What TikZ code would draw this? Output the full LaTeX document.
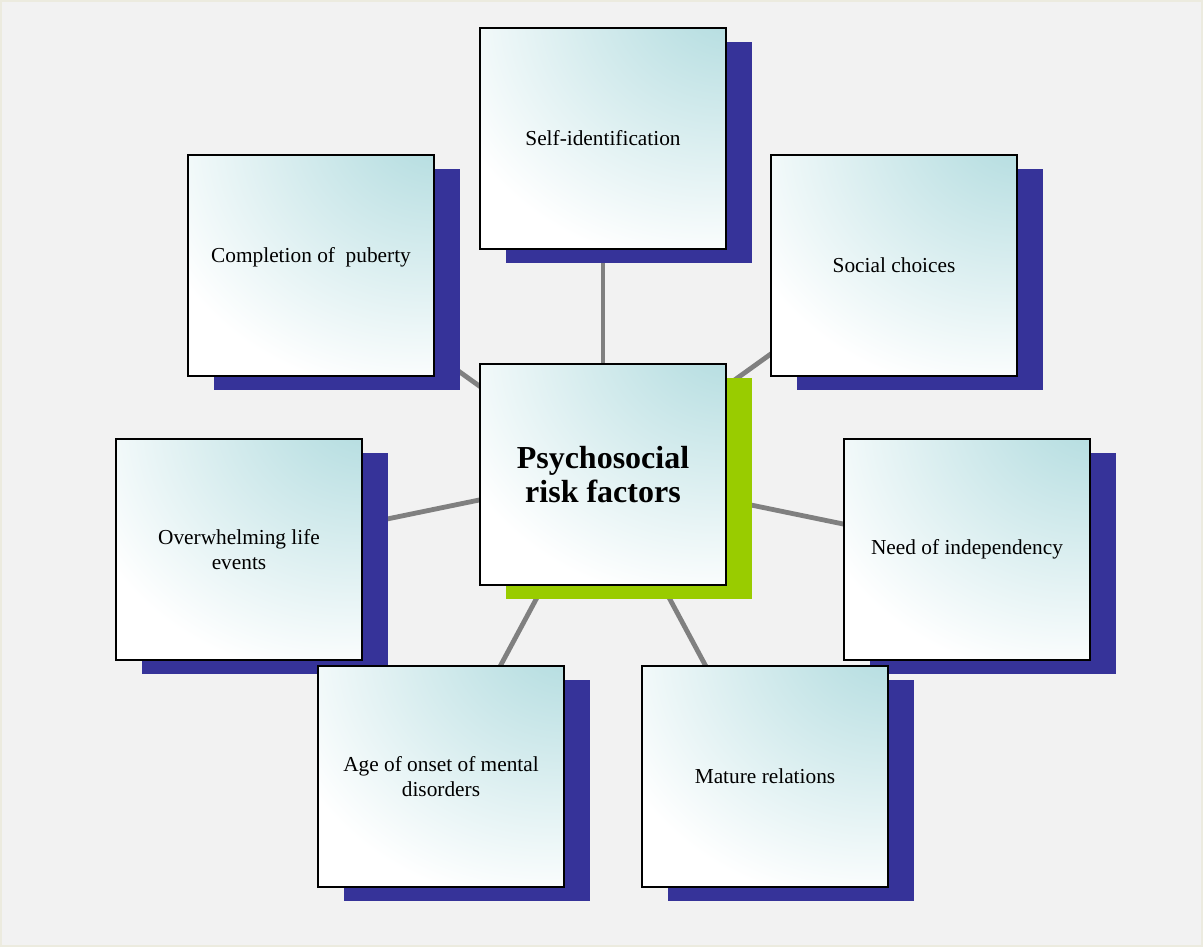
\documentclass[tikz,border=0pt]{standalone}
\usepackage{fontspec}
\setmainfont{Liberation Serif}
\usepackage{xcolor}
\usepackage{tikz}
\usetikzlibrary{shadows,backgrounds}

\definecolor{paneltint}{HTML}{F2F2F2}
\definecolor{paneledge}{HTML}{ECEBDF}
\definecolor{shadowblue}{HTML}{363399}
\definecolor{shadowgreen}{HTML}{99CC00}
\definecolor{tealtint}{HTML}{B9DFE2}
\definecolor{linkgray}{HTML}{808080}

% teal glow in the upper right corner of every box
\pgfdeclareradialshading{tealcorner}{\pgfpoint{28bp}{36bp}}{%
  color(0bp)=(tealtint); color(10bp)=(tealtint);
  color(55bp)=(white); color(200bp)=(white)}

\begin{document}
\begin{tikzpicture}[
    x=0.75pt,
    y=-0.75pt,
    factor/.style={
      rectangle,
      draw=black,
      line width=1.5pt,
      minimum width=185pt,
      minimum height=166pt,
      inner sep=0pt,
      align=center,
      shading=tealcorner,
      font=\fontsize{16}{18.75}\selectfont,
      drop shadow={shadow xshift=19.5pt, shadow yshift=-10.5pt,
        fill=shadowblue, opacity=1}
    },
    core/.style={
      factor,
      font=\fontsize{24}{25.5}\selectfont\bfseries,
      drop shadow={shadow xshift=19.5pt, shadow yshift=-10.5pt,
        fill=shadowgreen, opacity=1}
    },
    link/.style={
      draw=linkgray,
      line width=3.6pt
    }
  ]

    \useasboundingbox (0,0) rectangle (1203,947);

    % Central box
    \node[core] (core) at (603,474.5) {Psychosocial\\risk factors};

    % Surrounding factors
    \node[factor] (self) at (603,138.5) {Self-identification};
    \node[factor] (puberty) at (311,265.5) {Completion of\ \ puberty\\[-2.5pt]};
    \node[factor] (social) at (894,265.5) {Social choices};
    \node[factor] (events) at (239,549.5) {Overwhelming life\\events};
    \node[factor] (independency) at (967,549.5) {Need of independency};
    \node[factor] (onset) at (441,776.5) {Age of onset of mental\\disorders};
    \node[factor] (mature) at (765,776.5) {Mature relations};

    % Panel and spokes behind the boxes
    \begin{scope}[on background layer]
      \draw[paneledge, fill=paneltint, line width=2pt] (1,1) rectangle (1202,946);
      \foreach \f in {self, puberty, social, events, independency, onset, mature} {
        \draw[link] (core.center) -- (\f.center);
      }
    \end{scope}

  \end{tikzpicture}
\end{document}
